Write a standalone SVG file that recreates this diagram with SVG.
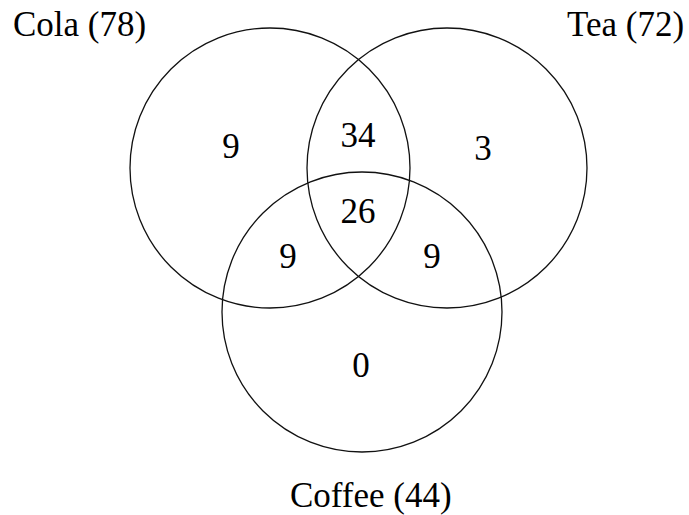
<svg xmlns="http://www.w3.org/2000/svg" width="689" height="515" viewBox="0 0 689 515">
<style>
.c{fill:none;stroke:#111;stroke-width:1.3}
.t{font-family:"Liberation Serif","Times New Roman",serif;font-size:35px;fill:#000}
.m{text-anchor:middle}
</style>
<rect width="689" height="515" fill="#fff"/>
<g id="cola"><circle class="c" cx="270" cy="168" r="140"/><text class="t" x="13" y="36">Cola (78)</text></g>
<g id="tea"><circle class="c" cx="447" cy="168" r="140"/><text class="t" x="567" y="36">Tea (72)</text></g>
<g id="coffee"><circle class="c" cx="362" cy="312" r="140"/><text class="t" x="290" y="507">Coffee (44)</text></g>
<g id="counts">
<text class="t m" x="231" y="158">9</text>
<text class="t m" x="358" y="147">34</text>
<text class="t m" x="483" y="160">3</text>
<text class="t m" x="358" y="223">26</text>
<text class="t m" x="288" y="268">9</text>
<text class="t m" x="432" y="268">9</text>
<text class="t m" x="361" y="377">0</text>
</g>
<g id="connectors"></g>
</svg>
